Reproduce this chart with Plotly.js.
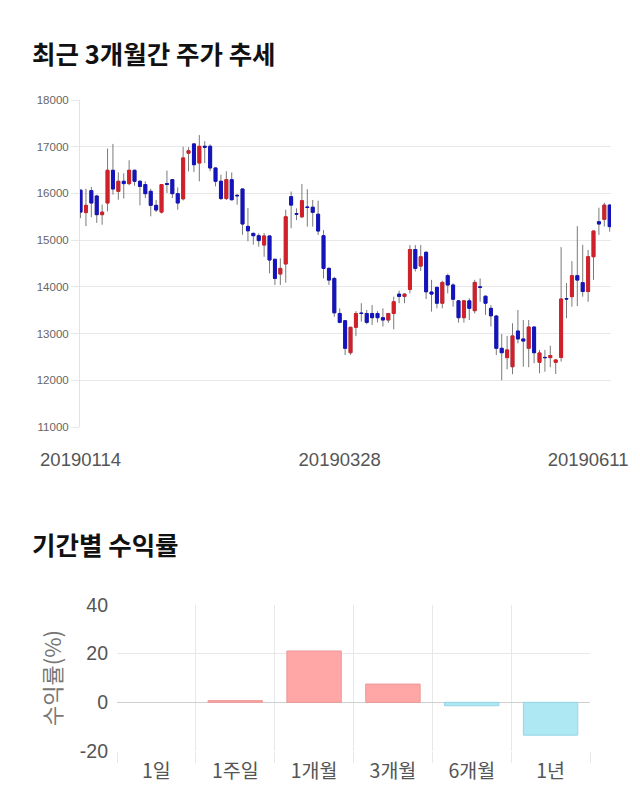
<!DOCTYPE html>
<html>
<head>
<meta charset="utf-8">
<script src="https://cdn.plot.ly/plotly-3.0.1.min.js"></script>
<style>html,body{margin:0;padding:0;background:#fff;}#chart{width:640px;height:810px;}</style>
</head>
<body>
<div id="chart"></div>
<script>
// ---- Price chart data (daily OHLC, last 3 months) ----
const dates = [
 '20190114','20190115','20190116','20190117','20190118','20190121','20190122','20190123','20190124','20190125',
 '20190128','20190129','20190130','20190131','20190207','20190208','20190211','20190212','20190213','20190214',
 '20190215','20190218','20190219','20190220','20190221','20190222','20190225','20190226','20190227','20190228',
 '20190304','20190305','20190306','20190307','20190308','20190311','20190312','20190313','20190314','20190315',
 '20190318','20190319','20190320','20190321','20190322','20190325','20190326','20190327','20190328','20190329',
 '20190401','20190402','20190403','20190404','20190405','20190408','20190409','20190410','20190411','20190412',
 '20190415','20190416','20190417','20190418','20190419','20190422','20190423','20190424','20190425','20190426',
 '20190429','20190430','20190502','20190503','20190507','20190508','20190509','20190510','20190513','20190514',
 '20190515','20190516','20190517','20190520','20190521','20190522','20190523','20190524','20190527','20190528',
 '20190529','20190530','20190531','20190603','20190604','20190605','20190607','20190610','20190611'
];
const opens = [
 16070,15590,16060,15945,15545,15795,16495,16045,16260,16210,
 16495,16260,16190,16045,15745,15600,16210,16295,15995,15885,
 16860,17060,16650,17010,17010,16545,16260,15890,16295,15960,
 16095,15295,15145,15095,14895,15090,14590,14275,14490,15930,
 15570,15500,15710,15705,15555,15095,14395,14180,13430,13275,
 12590,13135,13440,13430,13430,13430,13340,13290,13430,13845,
 13795,13945,14800,14445,14740,13890,13990,13650,14240,14040,
 13700,13340,13700,13490,14000,13800,13540,13375,12685,12485,
 12290,13055,12885,12685,13140,12385,12490,12485,12385,12490,
 13750,13790,14240,14090,13900,14645,15395,15445,15750
];
const highs = [
 16080,16100,16140,15970,15760,16960,17060,16450,16430,16710,
 16510,16280,16260,16100,15860,16190,16490,16310,16130,17000,
 16990,17080,17250,17120,17050,16560,16400,16475,16450,15990,
 16100,15690,15160,15145,15150,15100,14600,14610,15650,16040,
 15680,16200,16090,15860,15845,15215,14420,14215,13540,13290,
 13140,13480,13650,13505,13610,13480,13540,13440,13790,13920,
 13860,14895,14895,14895,14760,14150,14000,14130,14280,14075,
 13720,13720,13755,14150,14180,13810,13610,13400,12990,12950,
 13220,13505,13290,13290,13150,12650,12650,12740,12450,14850,
 14080,14550,15300,14900,14790,15200,15695,15800,15770
];
const lows = [
 15470,15300,15490,15370,15330,15615,15975,15865,15890,16175,
 16165,15745,15900,15510,15600,15570,16010,15900,15650,15850,
 16470,16460,16260,16650,16475,16150,15860,15860,15850,15760,
 15115,14975,14905,14860,14645,14290,14040,14040,14090,15255,
 15430,15470,15290,15290,15110,14180,14040,13360,13220,12540,
 12545,12945,13255,13200,13185,13240,13150,13230,13090,13650,
 13650,13860,14330,14340,13740,13470,13540,13540,13860,13575,
 13235,13235,13290,13430,13680,13400,13150,12540,12000,12235,
 12130,12790,12290,12280,12365,12150,12185,12280,12135,12400,
 13330,13575,13590,13790,13680,14150,15110,15290,15180
];
const closes = [
 15600,15745,15795,15545,15600,16495,16095,16260,16210,16495,
 16260,16150,15995,15745,15645,16190,16195,15995,15795,16760,
 16915,16615,17010,16990,16545,16260,15890,16295,15865,15950,
 15345,15200,15095,14990,15090,14575,14180,14395,15500,15750,
 15555,15845,15700,15595,15195,14395,14145,13445,13240,12685,
 13135,13430,13430,13240,13340,13340,13290,13430,13680,13795,
 13845,14800,14395,14645,13895,13845,13650,14095,14040,13735,
 13340,13700,13540,14095,13990,13650,13380,12685,12590,12650,
 12950,12885,12840,13140,12590,12585,12485,12530,12435,13740,
 13740,14240,14145,13900,14645,15195,15345,15750,15290
];
const priceTicks = [11000,12000,13000,14000,15000,16000,17000,18000];
const dateLabels = ['20190114','20190328','20190611'];

// ---- Period return data ----
const periods = ['1일','1주일','1개월','3개월','6개월','1년'];
const returns = [0, 0.7, 21.1, 7.5, -1.4, -13.5];
const returnTicks = [-20, 0, 20, 40];

const RED = '#D2202A', BLUE = '#1414BE';
const bodyHigh = opens.map((o,i)=>Math.max(o,closes[i]));
const bodyLow = opens.map((o,i)=>Math.min(o,closes[i]));

const wicks = {
  type:'candlestick', x:dates, open:opens, high:highs, low:lows, close:closes,
  xaxis:'x', yaxis:'y', hoverinfo:'skip', whiskerwidth:0,
  increasing:{line:{color:'#7a7a7a', width:1}, fillcolor:RED},
  decreasing:{line:{color:'#7a7a7a', width:1}, fillcolor:BLUE}
};
const bodies = {
  type:'candlestick', x:dates, open:opens, high:bodyHigh, low:bodyLow, close:closes,
  xaxis:'x', yaxis:'y', hoverinfo:'skip', whiskerwidth:0,
  increasing:{line:{color:RED, width:1}, fillcolor:RED},
  decreasing:{line:{color:BLUE, width:1}, fillcolor:BLUE}
};
const bars = {
  type:'bar', x:periods, y:returns, xaxis:'x2', yaxis:'y2', hoverinfo:'skip',
  marker:{
    color: returns.map(v => v >= 0 ? '#FFA6A6' : '#AEE8F2'),
    line:{color: returns.map(v => v >= 0 ? '#EE9696' : '#95D6E4'),
          width: returns.map(v => v === 0 ? 0 : 1)}
  }
};

const W = 640, H = 810;
const numFont = 'Liberation Sans, Arial, sans-serif';
const krFont = 'Noto Sans CJK KR, sans-serif';
const lastTickCat = dates[dates.length - 5];

const layout = {
  width:W, height:H, margin:{l:0,r:0,t:0,b:0},
  paper_bgcolor:'#fff', plot_bgcolor:'#fff', showlegend:false,
  boxgap:0.22,
  bargap:0.31,
  xaxis:{
    type:'category', domain:[80/W, 611/W], range:[-0.1, 98.24],
    rangeslider:{visible:false}, showgrid:false, zeroline:false, showline:false,
    tickmode:'array', tickvals:[dateLabels[0], dateLabels[1], lastTickCat], ticktext:dateLabels,
    ticks:'', tickfont:{family:numFont, size:18.5, color:'#555'}, ticklabelstandoff:19,
    anchor:'y', fixedrange:true
  },
  yaxis:{
    domain:[1-427/H, 1-100/H], range:[11000,18000],
    tickmode:'array', tickvals:priceTicks, ticktext:priceTicks.map(String),
    showgrid:true, gridcolor:'#e8e8e8', gridwidth:1, zeroline:false,
    showline:true, linecolor:'#e3e3e3', linewidth:1,
    ticks:'outside', ticklen:8, tickcolor:'#e8e8e8',
    tickfont:{family:numFont, size:11.5, color:'#666'}, anchor:'x', fixedrange:true
  },
  xaxis2:{
    type:'category', domain:[117/W, 590/W], anchor:'y2', tickson:'boundaries',
    showgrid:true, gridcolor:'#e8e8e8', showline:false, zeroline:false,
    ticks:'outside', ticklen:11, tickcolor:'#e8e8e8', ticklabelstandoff:6,
    tickfont:{family:krFont, size:19.5, color:'#555'}, fixedrange:true
  },
  yaxis2:{
    domain:[1-751/H, 1-605/H], range:[-20,40], anchor:'x2',
    tickmode:'array', tickvals:returnTicks, ticktext:returnTicks.map(String),
    showgrid:true, gridcolor:'#e8e8e8', zeroline:true, zerolinecolor:'#cfcfcf', zerolinewidth:1,
    ticks:'', ticklabelstandoff:8, tickfont:{family:numFont, size:19.5, color:'#555'},
    title:{text:'수익률(%)', font:{family:krFont, size:22, color:'#777'}, standoff:12},
    fixedrange:true
  },
  annotations:[
    {text:'<b>최근 3개월간 주가 추세</b>', xref:'paper', yref:'paper', x:30/W, y:1-52/H,
     xanchor:'left', yanchor:'middle', showarrow:false, font:{family:krFont, size:25.5, color:'#111'}},
    {text:'<b>기간별 수익률</b>', xref:'paper', yref:'paper', x:30/W, y:1-543/H,
     xanchor:'left', yanchor:'middle', showarrow:false, font:{family:krFont, size:25.5, color:'#111'}}
  ]
};

Plotly.newPlot('chart', [wicks, bodies, bars], layout, {staticPlot:true, displayModeBar:false});
</script>
</body>
</html>
